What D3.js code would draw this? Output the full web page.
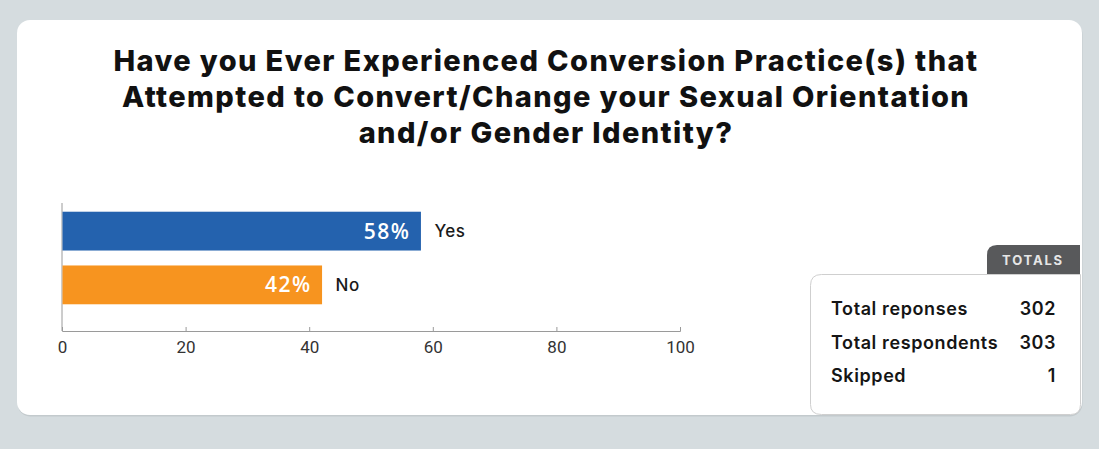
<!doctype html>
<html lang="en">
<head>
  <meta charset="UTF-8">
  <title>Conversion practice survey</title>
  <style type="text/css">
    html, body { margin: 0; padding: 0; background: #d5dcdf; }
    svg { display: block; }
  </style>
  <script src="https://cdn.jsdelivr.net/npm/d3@7"></script>
</head>
<body>
  <svg id="chart" width="1099" height="449"></svg>
  <script>
    let titleLines = [
      "Have you Ever Experienced Conversion Practice(s) that",
      "Attempted to Convert/Change your Sexual Orientation",
      "and/or Gender Identity?"
    ]
    let categories = ["Yes", "No"]
    let values = [58, 42]
    let barColors = ["#2462ae", "#f7941f"]
    let tickValues = [0, 20, 40, 60, 80, 100]
    let totalsLabels = ["Total reponses", "Total respondents", "Skipped"]
    let totalsValues = [302, 303, 1]

    let data = categories.map(function (c, i) {
      return { cat: c, value: values[i], color: barColors[i] }
    })

    let svg = d3.select("#chart")

    // card
    svg.append("rect")
      .attr("x", 17.5).attr("y", 21.5)
      .attr("width", 1065).attr("height", 395)
      .attr("rx", 13)
      .attr("fill", "#c3cacd")
    svg.append("rect")
      .attr("x", 17).attr("y", 20)
      .attr("width", 1065).attr("height", 395)
      .attr("rx", 13)
      .attr("fill", "#fff")

    // title
    svg.append("text")
      .attr("text-anchor", "middle")
      .attr("font-family", "Inter, 'Open Sans', sans-serif")
      .attr("font-weight", 800)
      .attr("font-size", 29)
      .attr("letter-spacing", 1.4)
      .attr("fill", "#111")
      .selectAll("tspan")
      .data(titleLines)
      .enter().append("tspan")
      .attr("x", 546)
      .attr("y", function (d, i) { return 71 + i * 36 })
      .text(function (d) { return d })

    // scales
    let x = d3.scaleLinear().domain([0, 100]).range([62, 680])
    let y = d3.scaleBand().domain(categories).range([205, 311])
      .paddingInner(0.278).paddingOuter(0.125)

    // axis
    let xAxis = svg.append("g")
      .attr("transform", "translate(0,331)")
      .call(d3.axisBottom(x).tickValues(tickValues).tickSize(-4).tickPadding(10))
    xAxis.select(".domain").attr("stroke", "#9a9a9a")
    xAxis.selectAll(".tick line").attr("stroke", "#9a9a9a")
    xAxis.selectAll(".tick text")
      .attr("font-family", "Roboto, sans-serif")
      .attr("font-size", 17)
      .attr("fill", "#333")

    svg.append("line")
      .attr("x1", x(0)).attr("x2", x(0))
      .attr("y1", 203).attr("y2", 331)
      .attr("stroke", "#9a9a9a")

    // bars
    svg.selectAll("rect.bar")
      .data(data)
      .enter().append("rect")
      .attr("class", "bar")
      .attr("x", x(0) + 0.5)
      .attr("y", function (d) { return y(d.cat) })
      .attr("width", function (d) { return x(d.value) - x(0) })
      .attr("height", y.bandwidth())
      .attr("fill", function (d) { return d.color })

    svg.selectAll("text.pct")
      .data(data)
      .enter().append("text")
      .attr("class", "pct")
      .attr("x", function (d) { return x(d.value) - 10 })
      .attr("y", function (d) { return y(d.cat) + y.bandwidth() / 2 + 7.5 })
      .attr("text-anchor", "end")
      .attr("font-family", "'Open Sans', sans-serif")
      .attr("font-weight", 600)
      .attr("font-size", 21)
      .attr("letter-spacing", 1.5)
      .attr("fill", "#fff")
      .text(function (d) { return d.value + "%" })

    svg.selectAll("text.cat")
      .data(data)
      .enter().append("text")
      .attr("class", "cat")
      .attr("x", function (d) { return x(d.value) + 14 })
      .attr("y", function (d) { return y(d.cat) + y.bandwidth() / 2 + 6 })
      .attr("font-family", "Inter, sans-serif")
      .attr("font-weight", 500)
      .attr("font-size", 17)
      .attr("letter-spacing", 0.5)
      .attr("fill", "#1a1a1a")
      .text(function (d) { return d.cat })

    // totals tab
    svg.append("path")
      .attr("d", "M987,274 L987,255 Q987,245 997,245 L1080,245 L1080,274 Z")
      .attr("fill", "#58595b")
    svg.append("text")
      .attr("x", 1033).attr("y", 265)
      .attr("text-anchor", "middle")
      .attr("font-family", "Inter, sans-serif")
      .attr("font-weight", 700)
      .attr("font-size", 13)
      .attr("letter-spacing", 1.8)
      .attr("fill", "#e6e6e6")
      .text("TOTALS")

    // totals box
    svg.append("path")
      .attr("d", "M1080.5,274.5 L1080.5,404.5 Q1080.5,414.5 1070.5,414.5 L821.5,414.5 Q810.5,414.5 810.5,404.5 L810.5,285.5 Q810.5,274.5 821.5,274.5 Z")
      .attr("fill", "#fff")
      .attr("stroke", "#cfcfcf")

    let rows = svg.selectAll("g.row")
      .data(totalsLabels)
      .enter().append("g")
      .attr("class", "row")
      .attr("transform", function (d, i) { return "translate(0," + (315 + i * 33.5) + ")" })
    rows.append("text")
      .attr("x", 831)
      .attr("font-family", "Inter, sans-serif")
      .attr("font-weight", 600)
      .attr("font-size", 18)
      .attr("letter-spacing", 0.6)
      .attr("fill", "#151515")
      .text(function (d) { return d })
    rows.append("text")
      .attr("x", 1056)
      .attr("text-anchor", "end")
      .attr("font-family", "Inter, sans-serif")
      .attr("font-weight", 600)
      .attr("font-size", 18)
      .attr("letter-spacing", 0.6)
      .attr("fill", "#151515")
      .text(function (d, i) { return totalsValues[i] })
  </script>
</body>
</html>
